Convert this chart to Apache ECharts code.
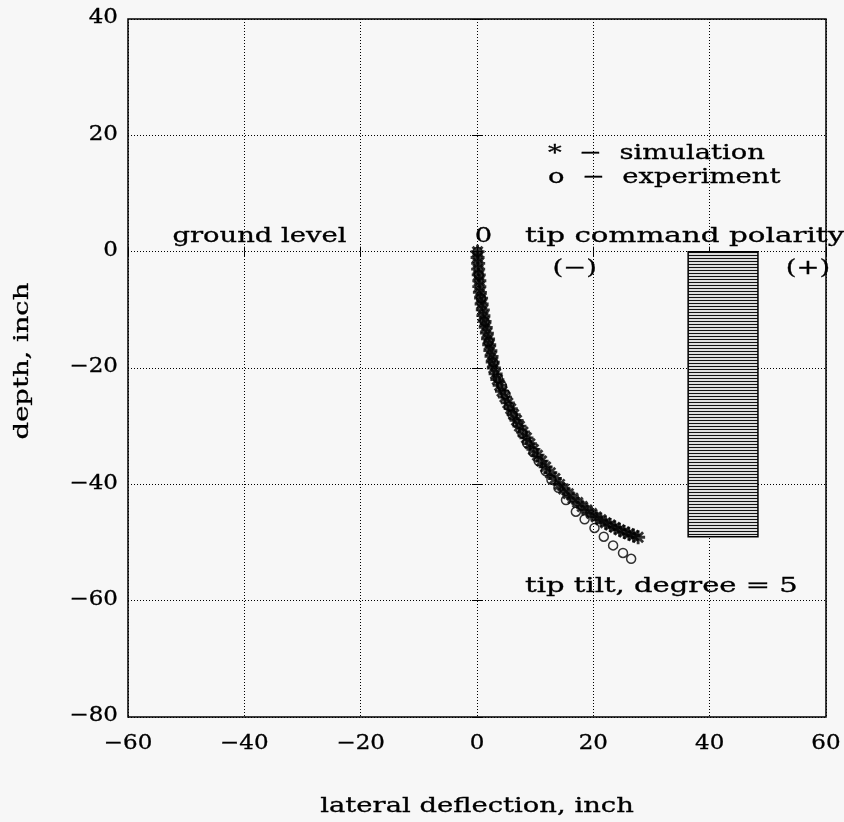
<!DOCTYPE html>
<html>
<head>
<meta charset="utf-8">
<script src="https://cdn.jsdelivr.net/npm/echarts@6/dist/echarts.min.js"></script>
<style>
  html, body { margin: 0; padding: 0; background: #f7f7f7; }
  #chart { width: 844px; height: 822px; }
</style>
</head>
<body>
<div id="chart"></div>
<script>
// simulated tip path (lateral x, depth y), inch
var simulation = [
  [0.1, 0], [0.1, -1], [0.2, -2], [0.2, -3], [0.3, -4], [0.4, -5], [0.4, -6], [0.5, -7],
  [0.7, -8], [0.8, -9], [1.0, -10], [1.1, -11], [1.3, -12], [1.5, -13], [1.7, -14],
  [1.9, -15], [2.1, -16], [2.3, -17], [2.5, -18], [2.7, -19], [2.9, -20], [3.2, -21],
  [3.5, -22], [3.9, -23], [4.3, -24], [4.8, -25], [5.3, -26], [5.8, -27], [6.3, -28],
  [6.8, -29], [7.3, -30], [7.9, -31], [8.5, -32], [9.1, -33], [9.7, -34], [10.4, -35],
  [11.1, -36], [11.8, -37], [12.6, -38], [13.4, -39], [14.2, -40], [14.9, -40.8],
  [15.7, -41.6], [16.5, -42.4], [17.3, -43.1], [18.1, -43.8], [18.9, -44.4], [19.7, -45.0],
  [20.5, -45.6], [21.3, -46.1], [22.1, -46.6], [22.9, -47.0], [23.7, -47.4], [24.5, -47.8],
  [25.3, -48.2], [26.1, -48.5], [26.9, -48.8], [27.7, -49.1]
];
// measured tip path
var experiment = [
  [0.1, 0], [0.3, -4], [0.7, -8], [1.3, -12], [2.0, -15.5], [2.8, -19], [3.6, -21.8],
  [4.3, -23.1], [4.9, -24.5], [5.5, -26.6], [6.1, -28], [7.0, -29.6], [7.8, -31.2],
  [8.6, -32.9], [9.7, -34.5], [10.6, -36], [11.8, -37.7], [12.8, -39.2], [14.0, -40.6],
  [15.3, -42.7], [17.0, -44.7], [18.5, -46], [20.2, -47.5], [21.8, -49], [23.4, -50.5],
  [25.1, -51.8], [26.5, -52.8]
];
// tip command polarity bar: [xLeft, xRight, yTop, yBottom]
var polarityBar = [[36.3, 48.3, 0, -49]];
// tick values
var xTicks = [-60, -40, -20, 0, 20, 40, 60];
var yTicks = [-80, -60, -40, -20, 0, 20, 40];
// text placed in data coordinates
var notes = [
  { name: 'ground level', value: [-37.4, 2.6], align: 'center' },
  { name: '0', value: [1.1, 2.6], align: 'center' },
  { name: 'tip command polarity', value: [35.7, 2.6], align: 'center', stretch: 1.47 },
  { name: '(\u2212)', value: [16.8, -2.9], align: 'center' },
  { name: '(+)', value: [56.9, -2.9], align: 'center' },
  { name: 'tip tilt, degree = 5', value: [31.7, -57.7], align: 'center', stretch: 1.45 },
  { name: '*  \u2212  simulation', value: [12.2, 16.8], align: 'left' },
  { name: 'o  \u2212  experiment', value: [12.2, 12.7], align: 'left' },
  { name: 'lateral deflection, inch', value: [0, -95.5], align: 'center' },
  { name: 'depth, inch', value: [-78.1, -18.8], align: 'center', rotate: true }
];

var FONT = 'DejaVu Serif';
var STRETCH = 1.37;
var minus = function (v) { return String(v).replace('-', '\u2212'); };

function textEl(x, y, text, align, opts) {
  opts = opts || {};
  return {
    type: 'text', x: x, y: y,
    rotation: opts.rotate ? Math.PI / 2 : 0,
    scaleX: opts.stretch || STRETCH,
    style: {
      text: text, fill: '#000', stroke: '#000', lineWidth: 0.3,
      fontFamily: FONT, fontSize: opts.size || 20,
      align: align, verticalAlign: 'middle'
    }
  };
}

// horizontal hatch for the polarity bar
var hatch = document.createElement('canvas');
hatch.width = 8; hatch.height = 3;
var hc = hatch.getContext('2d');
hc.fillStyle = '#dcdcdc'; hc.fillRect(0, 0, 8, 3);
hc.fillStyle = '#111'; hc.fillRect(0, 0, 8, 1);

var star = 'path://M-2,-10L2,-10L2,10L-2,10Z M-10,-2L10,-2L10,2L-10,2Z ' +
  'M-8.5,-5.7L-5.7,-8.5L8.5,5.7L5.7,8.5Z M-5.7,8.5L-8.5,5.7L5.7,-8.5L8.5,-5.7Z';

var tick = { inside: true, length: 5, lineStyle: { color: '#000' } };

var chart = echarts.init(document.getElementById('chart'));
var option = {
  backgroundColor: '#f7f7f7',
  animation: false,
  grid: { left: 128, right: 18, top: 19, bottom: 105, show: true, borderColor: '#000', borderWidth: 1.5 },
  xAxis: [{
    type: 'value', min: -60, max: 60, interval: 20,
    axisLine: { show: false }, axisTick: tick, axisLabel: { show: false },
    splitLine: { show: true, lineStyle: { color: '#000', type: [1, 2], width: 1 } }
  }, {
    type: 'value', min: -60, max: 60, interval: 20, position: 'top',
    axisLine: { show: false }, axisLabel: { show: false }, splitLine: { show: false },
    axisTick: tick
  }],
  yAxis: [{
    type: 'value', min: -80, max: 40, interval: 20,
    axisLine: { show: false }, axisTick: tick, axisLabel: { show: false },
    splitLine: { show: true, lineStyle: { color: '#000', type: [1, 2], width: 1 } }
  }, {
    type: 'value', min: -80, max: 40, interval: 20, position: 'right',
    axisLine: { show: false }, axisLabel: { show: false }, splitLine: { show: false },
    axisTick: tick
  }],
  series: [
    {
      type: 'custom',
      data: polarityBar,
      encode: { x: [0, 1], y: [2, 3] },
      renderItem: function (params, api) {
        var p0 = api.coord([api.value(0), api.value(2)]);
        var p1 = api.coord([api.value(1), api.value(3)]);
        return {
          type: 'rect',
          shape: { x: p0[0], y: p0[1], width: p1[0] - p0[0], height: p1[1] - p0[1] },
          style: { fill: { image: hatch, repeat: 'repeat' }, stroke: '#000', lineWidth: 1.5 }
        };
      },
      z: 3
    },
    {
      name: 'simulation', type: 'scatter', data: simulation,
      symbol: star, symbolSize: 14,
      itemStyle: { color: '#000' }, z: 4
    },
    {
      name: 'experiment', type: 'scatter', data: experiment,
      symbol: 'circle', symbolSize: 9,
      itemStyle: { color: 'rgba(0,0,0,0)', borderColor: '#000', borderWidth: 1.5 }, z: 5
    },
    {
      type: 'custom', data: notes, clip: false, silent: true,
      encode: { x: 0, y: 1 },
      renderItem: function (params, api) {
        var n = notes[params.dataIndex];
        var p = api.coord([api.value(0), api.value(1)]);
        return textEl(p[0], p[1], n.name, n.align, n);
      },
      z: 6
    },
    {
      // x tick labels
      type: 'custom', data: xTicks.map(function (v) { return [v, -80]; }), clip: false, silent: true,
      encode: { x: 0, y: 1 },
      renderItem: function (params, api) {
        var p = api.coord([api.value(0), api.value(1)]);
        return textEl(p[0], p[1] + 27, minus(api.value(0)), 'center', { stretch: 1.15 });
      },
      z: 6
    },
    {
      // y tick labels
      type: 'custom', data: yTicks.map(function (v) { return [-60, v]; }), clip: false, silent: true,
      encode: { x: 0, y: 1 },
      renderItem: function (params, api) {
        var p = api.coord([api.value(0), api.value(1)]);
        return textEl(p[0] - 10, p[1] - 1, minus(api.value(1)), 'right', { stretch: 1.15 });
      },
      z: 6
    }
  ]
};
chart.setOption(option);
</script>
</body>
</html>
